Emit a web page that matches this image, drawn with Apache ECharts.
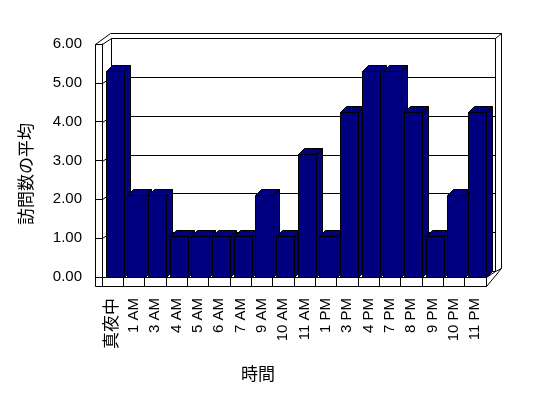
<!DOCTYPE html>
<html>
<head>
<meta charset="utf-8">
<script src="https://cdn.jsdelivr.net/npm/echarts@6/dist/echarts.min.js"></script>
<style>
  html, body { margin: 0; background: #fff; }
  #main { width: 548px; height: 398px; }
</style>
</head>
<body>
<div id="main"></div>
<script>
  // 時間帯ごとの訪問数の平均
  var hours = ['真夜中', '1 AM', '3 AM', '4 AM', '5 AM', '6 AM', '7 AM', '9 AM', '10 AM',
    '11 AM', '1 PM', '3 PM', '4 PM', '7 PM', '8 PM', '9 PM', '10 PM', '11 PM'];
  var visits = [5.3, 2.12, 2.12, 1.06, 1.06, 1.06, 1.06, 2.12, 1.06,
    3.18, 1.06, 4.24, 5.3, 5.3, 4.24, 1.06, 2.12, 4.24];
  var yTicks = [0, 1, 2, 3, 4, 5, 6];

  var FONT = "'Liberation Sans', 'Noto Sans CJK JP', sans-serif";
  var NAVY = '#000080';

  function px (v) {
    return Math.round(v) + 0.5;
  }

  // 奥の壁・側面・床 (擬似3D)
  function renderFrame (params, api) {
    var cs = params.coordSys;
    var L = px(cs.x), T = px(cs.y), R = px(cs.x + cs.width), B = px(cs.y + cs.height);
    var dx = 9, dy = -6, th = 7, ft = 9;
    var ln = {stroke: '#000', lineWidth: 1, fill: null};
    var kids = [];
    function line (a, b) {
      kids.push({type: 'line', shape: {x1: a[0], y1: a[1], x2: b[0], y2: b[1]}, style: ln});
    }
    // 外枠
    kids.push({
      type: 'polyline',
      shape: {points: [[L - th, B + ft], [L - th, T], [L - th + 15, T - 11], [R + dx + 6, T - 11],
        [R + dx + 6, B + dy - 3], [R, B + ft], [L - th, B + ft]]},
      style: ln
    });
    // 奥の壁
    kids.push({type: 'rect', shape: {x: L + dx, y: T + dy, width: R - L, height: B - T}, style: ln});
    line([R + dx, T + dy], [R + dx + 6, T - 11]);
    line([R + dx, B + dy], [R + dx + 6, B + dy - 3]);
    // 左の側面
    line([L - th, T], [L, T]);
    line([L, T], [L + dx, T + dy]);
    // 床
    line([R, B], [R + dx, B + dy]);
    line([R, B], [R, B + ft]);
    // 目盛線
    yTicks.forEach(function (v) {
      if (v === 0 || v === 6) return;
      var y = px(api.coord([0, v])[1]);
      line([L, y], [L + dx, y + dy]);
      line([L + dx, y + dy], [R + dx, y + dy]);
    });
    return {type: 'group', children: kids};
  }

  function renderBar (params, api) {
    var i = api.value(0), v = api.value(1);
    var top = api.coord([i, v]), base = api.coord([i, 0]);
    var bw = Math.round(api.size([1, 0])[0] * 0.84);
    var x0 = px(top[0] - bw / 2 + 2), x1 = x0 + bw;
    var yt = px(top[1]), yb = px(base[1]);
    var d = 6;
    var st = {fill: NAVY, stroke: '#000', lineWidth: 1};
    return {
      type: 'group',
      children: [
        {type: 'polygon', shape: {points: [[x1, yt], [x1 + d, yt - d], [x1 + d, yb - d], [x1, yb]]}, style: st},
        {type: 'polygon', shape: {points: [[x0, yt], [x0 + d, yt - d], [x1 + d, yt - d], [x1, yt]]}, style: st},
        {type: 'rect', shape: {x: x0, y: yt, width: bw, height: yb - yt}, style: st}
      ]
    };
  }

  var myChart = echarts.init(document.getElementById('main'), null, {renderer: 'canvas'});
  var option = {
    backgroundColor: '#fff',
    animation: false,
    textStyle: {fontFamily: FONT, color: '#000'},
    grid: {left: 102, right: 62, top: 44, bottom: 121},
    xAxis: {
      type: 'category',
      data: hours,
      name: '時間',
      nameLocation: 'middle',
      nameGap: 90,
      nameTextStyle: {fontSize: 17, color: '#000', fontFamily: FONT, padding: [0, 72, 0, 0]},
      axisLine: {show: true, lineStyle: {color: '#000', width: 1}},
      axisTick: {show: true, length: 9, interval: 0, lineStyle: {color: '#000'}},
      axisLabel: {
        rotate: 90,
        interval: 0,
        margin: 21,
        fontSize: 15,
        color: '#000',
        fontFamily: FONT,
        formatter: function (v) {
          return /[^\x00-\x7f]/.test(v) ? '{j|' + v + '}' : v;
        },
        rich: {j: {fontSize: 17, fontFamily: FONT, color: '#000'}}
      },
      splitLine: {show: false}
    },
    yAxis: {
      type: 'value',
      min: yTicks[0],
      max: yTicks[yTicks.length - 1],
      interval: 1,
      name: '訪問数の平均',
      nameLocation: 'middle',
      nameGap: 66,
      nameTextStyle: {fontSize: 17, color: '#000', fontFamily: FONT, padding: [0, 27, 0, 0]},
      axisLine: {show: true, lineStyle: {color: '#000', width: 1}},
      axisTick: {show: true, length: 7, lineStyle: {color: '#000'}},
      axisLabel: {
        margin: 20,
        fontSize: 15,
        color: '#000',
        fontFamily: FONT,
        formatter: function (v) { return v.toFixed(2); }
      },
      splitLine: {show: false}
    },
    series: [
      {
        type: 'custom',
        name: 'frame',
        renderItem: renderFrame,
        data: [[0, 0]],
        encode: {x: 0, y: 1},
        silent: true
      },
      {
        type: 'custom',
        name: '訪問数の平均',
        renderItem: renderBar,
        data: visits.map(function (v, i) { return [i, v]; }),
        encode: {x: 0, y: 1}
      }
    ]
  };
  myChart.setOption(option);
</script>
</body>
</html>
